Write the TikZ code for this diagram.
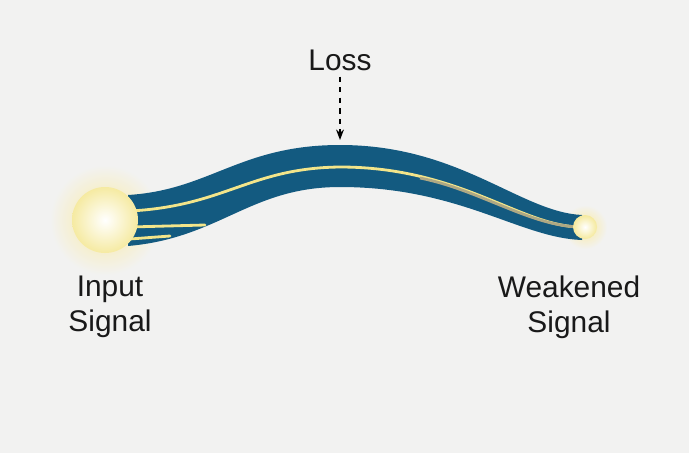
\documentclass[tikz,border=0pt]{standalone}
\usepackage{fontspec}
\setmainfont{Liberation Sans}
\usetikzlibrary{arrows.meta}
\definecolor{bgcol}{HTML}{F2F2F1}
\definecolor{fibre}{HTML}{135A80}
\definecolor{core}{HTML}{F3E58A}
\definecolor{glow}{HTML}{FBEBA0}
\tikzset{
  label/.style={font=\fontsize{17}{20}\selectfont, align=center, text=black!90},
  strand/.style={core, line width=1.6pt, line cap=round}
}
\begin{document}
\begin{tikzpicture}[x=0.02cm,y=-0.02cm]
  % Background
  \fill[bgcol] (0,0) rectangle (689,453);
  \useasboundingbox (0,0) rectangle (689,453);

  % glow
  \shade[inner color=glow, outer color=bgcol] (105,220) circle (55);
  \shade[inner color=glow, outer color=bgcol] (585,227) circle (22);

  % fibre body
  \fill[fibre] (128,195) .. controls (210,190) and (240,145) .. (340,145)
     .. controls (460,145) and (520,212) .. (582,215)
     -- (582,240) .. controls (520,238) and (460,187) .. (340,187)
     .. controls (250,187) and (220,238) .. (128,246) -- cycle;

  % core and strands
  \draw[strand] (130,211) .. controls (225,206) and (250,168) .. (340,167)
     .. controls (460,167) and (520,226) .. (580,227);
  \draw[gray!60!core, line width=1.6pt] (420,178) .. controls (480,190) and (530,226) .. (580,227);
  \draw[strand] (130,227) -- (205,225);
  \draw[strand] (130,239) -- (170,236);

  % input and output signals
  \shade[inner color=white, outer color=core!80] (105,220) circle (33);
  \node[circle, minimum size=66*0.02cm] (in) at (105,220) {};
  \shade[inner color=white, outer color=core!85] (585,227) circle (12);
  \node[circle, minimum size=24*0.02cm] (out) at (585,227) {};

  % labels
  \node[label] (loss) at (340,60) {Loss};
  \coordinate (hit) at (340,140);
  \draw[dashed, thick, -{Stealth[length=6pt]}] (loss.south) -- (hit);
  \node[label] (inlbl) at (110,307) {Input\\Signal};
  \node[label] (outlbl) at (569,307) {Weakened\\Signal};
\end{tikzpicture}
\end{document}
